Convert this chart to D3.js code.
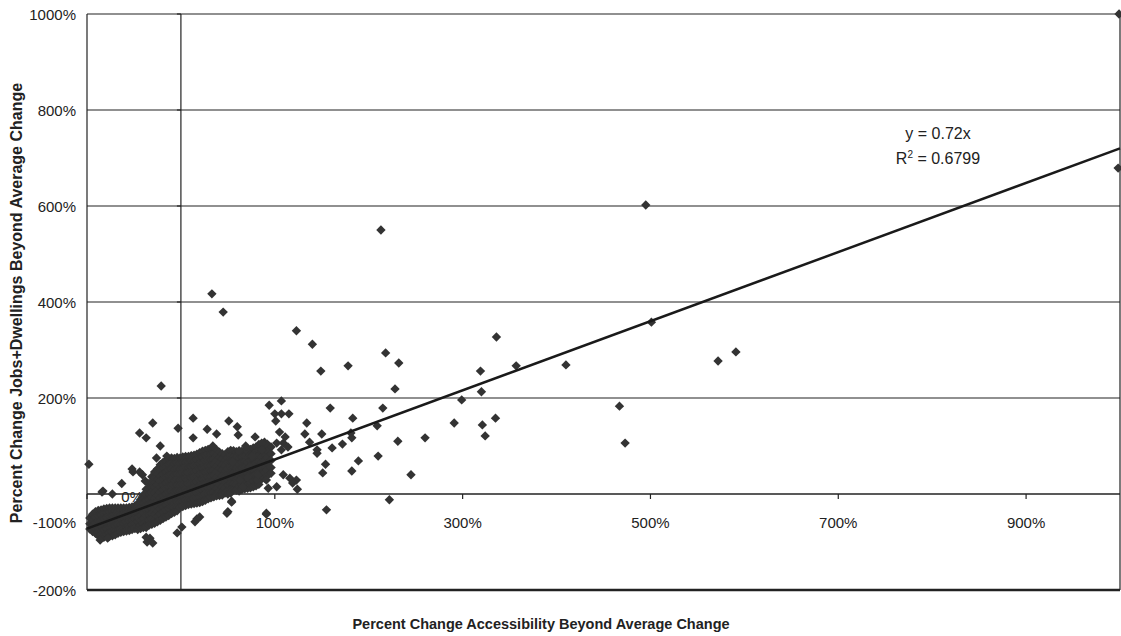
<!DOCTYPE html>
<html>
<head>
<meta charset="utf-8">
<script src="https://cdn.jsdelivr.net/npm/d3@7"></script>
<style>
  body { margin: 0; background: #fff; }
  svg { display: block; font-family: "Liberation Sans", Arial, sans-serif; }
</style>
</head>
<body>
<svg id="chart" width="1121" height="636"></svg>
<script>
// axis ticks (percent)
const xTicks = [-100, 100, 300, 500, 700, 900]
const yTicks = [1000, 800, 600, 400, 200, 0, -200]
const slope = 0.72
const rSquared = "0.6799"

// dense cluster, read column by column: [x, [y values]]
const clusterColumns = [
  [-97, [-50, -62, -73]],
  [-94, [-42, -55, -67, -78]],
  [-91, [-37, -48, -60, -72, -82]],
  [-88, [-34, -45, -57, -69, -80, -87]],
  [-85, [-33, -43, -55, -66, -77, -86]],
  [-82, [-31, -40, -52, -63, -75, -86, -90]],
  [-79, [-30, -38, -49, -61, -72, -84]],
  [-76, [-29, -36, -47, -58, -70, -81, -88]],
  [-73, [-29, -35, -45, -57, -68, -79, -87]],
  [-70, [-29, -36, -44, -55, -66, -77, -85]],
  [-67, [-29, -36, -43, -53, -64, -75, -82]],
  [-64, [-29, -35, -42, -52, -63, -74, -80]],
  [-61, [-29, -35, -41, -50, -61, -72, -78]],
  [-58, [-29, -35, -40, -48, -59, -70, -77]],
  [-55, [-28, -34, -39, -46, -57, -68, -76]],
  [-52, [-27, -33, -38, -45, -54, -65, -74]],
  [-49, [-25, -31, -37, -44, -51, -62, -72]],
  [-46, [-20, -27, -34, -41, -49, -58, -69, -74]],
  [-43, [-12, -20, -28, -36, -45, -55, -66, -72]],
  [-40, [-2, -11, -20, -29, -40, -51, -62, -70]],
  [-37, [10, -1, -12, -23, -34, -45, -56, -66, -70]],
  [-34, [22, 11, 0, -11, -22, -33, -44, -55, -65]],
  [-31, [36, 25, 14, 3, -8, -19, -30, -41, -52, -63]],
  [-28, [46, 35, 24, 13, 2, -9, -20, -31, -42, -53, -61]],
  [-25, [52, 41, 30, 19, 8, -3, -14, -25, -36, -47, -58]],
  [-22, [61, 49, 38, 27, 15, 4, -8, -19, -31, -42, -55]],
  [-19, [66, 54, 42, 31, 19, 8, -4, -15, -27, -38, -51]],
  [-16, [70, 58, 46, 35, 23, 12, 0, -11, -23, -34, -48]],
  [-13, [73, 62, 50, 39, 27, 16, 4, -7, -19, -30, -45]],
  [-10, [75, 63, 52, 40, 29, 17, 6, -6, -17, -28, -41]],
  [-7, [74, 62, 51, 39, 28, 16, 5, -7, -18, -29, -38]],
  [-4, [76, 64, 53, 41, 30, 18, 7, -5, -16, -27, -35]],
  [-1, [75, 64, 52, 41, 29, 18, 6, -5, -17, -28]],
  [2, [77, 65, 54, 42, 31, 19, 8, -4, -15, -26]],
  [5, [78, 66, 55, 43, 32, 20, 9, -3, -14, -24]],
  [8, [78, 67, 55, 44, 32, 21, 9, -2, -13, -22]],
  [11, [80, 68, 57, 45, 34, 22, 11, -1, -12, -21]],
  [14, [81, 69, 58, 46, 35, 23, 12, 0, -11, -20]],
  [17, [83, 72, 60, 49, 37, 26, 14, 3, -9, -19]],
  [20, [86, 75, 63, 52, 40, 29, 17, 6, -6, -18]],
  [23, [89, 77, 66, 54, 43, 31, 20, 8, -3, -16]],
  [26, [91, 80, 68, 57, 45, 34, 22, 11, 0, -13]],
  [29, [93, 81, 70, 58, 47, 35, 24, 12, 1, -10]],
  [32, [94, 83, 71, 60, 48, 37, 25, 14, 2, -8]],
  [35, [95, 84, 72, 61, 49, 38, 26, 15, 3, -6]],
  [38, [92, 80, 69, 57, 46, 34, 23, 11, 0, -4]],
  [41, [87, 76, 64, 53, 41, 30, 18, 7, -3]],
  [44, [84, 73, 61, 50, 38, 27, 15, 4, -2]],
  [47, [82, 71, 59, 48, 36, 25, 13, 2]],
  [50, [88, 76, 65, 53, 42, 30, 19, 7, 0]],
  [53, [91, 79, 68, 56, 45, 33, 22, 10, 2]],
  [56, [90, 78, 67, 55, 44, 32, 21, 9]],
  [59, [88, 76, 65, 53, 42, 30, 19, 8]],
  [62, [86, 75, 63, 52, 40, 29, 17, 6]],
  [65, [89, 77, 66, 54, 43, 31, 20, 9]],
  [68, [91, 79, 68, 56, 45, 33, 22, 11]],
  [71, [88, 76, 65, 53, 42, 30, 19, 12]],
  [74, [93, 81, 70, 58, 47, 35, 24, 13]],
  [77, [96, 84, 73, 61, 50, 38, 27, 15]],
  [80, [98, 87, 75, 64, 52, 41, 29, 17]],
  [83, [103, 91, 80, 68, 57, 45, 34, 20]],
  [86, [100, 88, 77, 65, 54, 42, 31]],
  [89, [108, 96, 82, 70, 57, 44, 33]],
  [92, [104, 90, 76, 62, 50, 38]],
  [96, [98, 84, 70, 55, 43]]
]

// individual points outside the dense cluster: [x, y]
const scatterPoints = [
  [999, 1000], [998, 679], [495, 602], [213, 550], [33, 417], [45, 379],
  [123, 340], [140, 312], [149, 256], [178, 267], [218, 294], [232, 273],
  [228, 219], [94, 185], [107, 194], [100, 167], [107, 167], [115, 167],
  [101, 152], [159, 179], [134, 148], [150, 125], [183, 158], [215, 179],
  [209, 142], [231, 110], [260, 117], [13, 158], [13, 117], [28, 135],
  [38, 125], [51, 152], [60, 140], [61, 123], [79, 119], [34, 100],
  [69, 100], [62, 90], [55, 67], [76, 79], [86, 106], [86, 92],
  [105, 129], [111, 119], [109, 106], [114, 98], [102, 106], [107, 92],
  [132, 125], [137, 108], [145, 92], [145, 85], [154, 62], [151, 44],
  [161, 96], [172, 104], [182, 117], [181, 127], [189, 69], [182, 48],
  [210, 79], [245, 40], [222, -12], [155, -33], [91, -42], [50, -37],
  [54, -15], [17, -52], [20, -48], [123, 29], [124, 10], [116, 33],
  [119, 23], [109, 40], [91, 29], [93, 12], [102, 15], [81, 29],
  [82, 40], [73, 56], [71, 35], [66, 15], [63, 29],
  [336, 327], [319, 256], [357, 267], [410, 269], [501, 358], [572, 277],
  [591, 296], [320, 213], [299, 196], [291, 148], [321, 144], [324, 121],
  [335, 158], [467, 183], [473, 106],
  [-21, 225], [-98, 62], [-83, 6], [-30, 148], [-44, 127], [-37, 117],
  [-22, 100], [-3, 137], [-26, 75], [-15, 79], [-52, 52], [-51, 46],
  [-63, 22], [-84, 4], [-41, 40], [-44, 46], [-38, 27], [-73, 0],
  [-86, -96], [-78, -92], [-36, -100], [-33, -92], [-37, -90], [-30, -102],
  [-4, -81], [1, -69], [15, -58], [49, -40], [54, -17], [91, -40]
]

const points = clusterColumns
  .flatMap(([x, ys]) => ys.map(y => [x, y]))
  .concat(scatterPoints)

const svg = d3.select("#chart")

const x = d3.scaleLinear().domain([-100, 1000]).range([87, 1120])
const y = d3.scaleLinear().domain([-200, 1000]).range([590, 14])

const ink = "#222"
const fmt = d => d + "%"

// horizontal gridlines (top border included)
svg.append("g")
  .selectAll("line")
  .data(yTicks.filter(d => d > 0))
  .join("line")
    .attr("x1", x(-100)).attr("x2", x(1000))
    .attr("y1", d => y(d)).attr("y2", d => y(d))
    .attr("stroke", ink).attr("stroke-width", 1.2)

// plot frame
svg.append("line")
  .attr("x1", x(-100)).attr("x2", x(-100))
  .attr("y1", y(1000)).attr("y2", y(-200))
  .attr("stroke", ink).attr("stroke-width", 1.2)
svg.append("line")
  .attr("x1", x(1000)).attr("x2", x(1000))
  .attr("y1", y(1000)).attr("y2", y(-200))
  .attr("stroke", ink).attr("stroke-width", 1.2)
svg.append("line")
  .attr("x1", x(-100)).attr("x2", x(1000))
  .attr("y1", y(-200)).attr("y2", y(-200))
  .attr("stroke", ink).attr("stroke-width", 2.5)

// y axis crossing at x = 0
svg.append("line")
  .attr("x1", x(0)).attr("x2", x(0))
  .attr("y1", y(1000)).attr("y2", y(-200))
  .attr("stroke", ink).attr("stroke-width", 1.2)
svg.append("g")
  .selectAll("line")
  .data(yTicks)
  .join("line")
    .attr("x1", x(0) - 4).attr("x2", x(0))
    .attr("y1", d => y(d)).attr("y2", d => y(d))
    .attr("stroke", ink).attr("stroke-width", 1.2)

// x axis crossing at y = 0
svg.append("line")
  .attr("x1", x(-100)).attr("x2", x(1000))
  .attr("y1", y(0)).attr("y2", y(0))
  .attr("stroke", ink).attr("stroke-width", 1.5)
svg.append("g")
  .selectAll("line")
  .data(xTicks)
  .join("line")
    .attr("x1", d => x(d)).attr("x2", d => x(d))
    .attr("y1", y(0)).attr("y2", y(0) + 5)
    .attr("stroke", ink).attr("stroke-width", 1.2)

// y tick labels (0% sits inside the plot, under the points)
svg.append("g")
  .selectAll("text")
  .data(yTicks)
  .join("text")
    .attr("x", d => d === 0 ? 143 : 76)
    .attr("y", d => y(d) + (d === 0 ? 8 : 6))
    .attr("text-anchor", "end")
    .attr("font-size", 15)
    .attr("fill", ink)
    .text(fmt)

// x tick labels (first one pushed left of the frame)
svg.append("g")
  .selectAll("text")
  .data(xTicks)
  .join("text")
    .attr("x", d => d === -100 ? 76 : x(d))
    .attr("y", y(0) + 34)
    .attr("text-anchor", d => d === -100 ? "end" : "middle")
    .attr("font-size", 15)
    .attr("fill", ink)
    .text(fmt)

// scatter points as diamonds
const diamond = d3.symbol(d3.symbolSquare, 44)
svg.append("g")
  .selectAll("path")
  .data(points)
  .join("path")
    .attr("d", diamond)
    .attr("transform", d => `translate(${x(d[0])},${y(d[1])}) rotate(45)`)
    .attr("fill", "#333")

// linear trend line through the origin
const trend = d3.line().x(d => x(d)).y(d => y(slope * d))
svg.append("path")
  .attr("d", trend([-100, 1000]))
  .attr("fill", "none")
  .attr("stroke", "#1a1a1a")
  .attr("stroke-width", 2.5)

// trend equation
const eq = svg.append("g").attr("font-size", 16).attr("fill", ink).attr("text-anchor", "middle")
eq.append("text").attr("x", 938).attr("y", 139).text(`y = ${slope}x`)
const r2 = eq.append("text").attr("x", 938).attr("y", 164)
r2.append("tspan").text("R")
r2.append("tspan").attr("dy", -6).attr("font-size", 10).text("2")
r2.append("tspan").attr("dy", 6).text(` = ${rSquared}`)

// axis titles
svg.append("text")
  .attr("x", 541).attr("y", 629)
  .attr("text-anchor", "middle")
  .attr("font-size", 14.5).attr("font-weight", "bold")
  .attr("fill", ink)
  .text("Percent Change Accessibility Beyond Average Change")

svg.append("text")
  .attr("transform", "translate(22,303) rotate(-90)")
  .attr("text-anchor", "middle")
  .attr("font-size", 16).attr("font-weight", "bold")
  .attr("fill", ink)
  .text("Percent Change Jobs+Dwellings Beyond Average Change")
</script>
</body>
</html>
